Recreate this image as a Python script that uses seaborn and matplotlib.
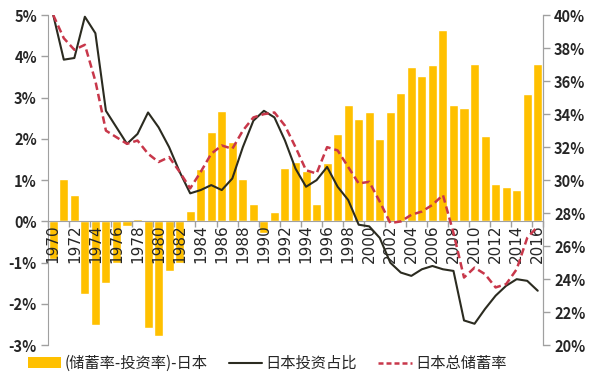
import numpy as np
import matplotlib
matplotlib.use('Agg')
import matplotlib.pyplot as plt
from matplotlib.patches import Patch
from matplotlib.lines import Line2D
from matplotlib.ticker import FuncFormatter
import seaborn as sns

sns.set_style('white')
plt.rcParams['font.family'] = ['Noto Sans CJK SC', 'DejaVu Sans']

years = list(range(1970, 2017))

# (储蓄率-投资率), %
gap = [-0.9, 1.02, 0.65, -1.76, -2.5, -1.5, -1.0, -0.12, 0.07, -2.58,
       -2.77, -1.2, -1.0, 0.25, 1.28, 2.17, 2.67, 1.92, 1.02, 0.41,
       -0.28, 0.22, 1.3, 1.44, 1.21, 0.43, 1.41, 2.13, 2.81, 2.49,
       2.65, 2.0, 2.65, 3.11, 3.74, 3.52, 3.8, 4.63, 2.81, 2.76,
       3.82, 2.06, 0.91, 0.83, 0.75, 3.08, 3.82]

# 日本投资占比, %
invest = [40.0, 37.3, 37.4, 39.9, 38.9, 34.2, 33.2, 32.2, 32.8, 34.1,
          33.2, 32.0, 30.5, 29.2, 29.4, 29.7, 29.4, 30.1, 32.0, 33.6,
          34.2, 33.8, 32.4, 30.7, 29.6, 30.0, 30.8, 29.6, 28.8, 27.3,
          27.2, 26.5, 25.0, 24.4, 24.2, 24.6, 24.8, 24.6, 24.5, 21.5,
          21.3, 22.2, 23.0, 23.6, 24.0, 23.9, 23.3]

# 日本总储蓄率, %
saving = [40.0, 38.6, 37.9, 38.2, 36.0, 33.0, 32.6, 32.2, 32.4, 31.6,
          31.1, 31.4, 30.5, 29.5, 30.5, 31.6, 32.1, 31.9, 33.0, 33.8,
          34.0, 34.1, 33.3, 32.0, 30.6, 30.4, 32.0, 31.8, 30.8, 29.8,
          29.9, 28.7, 27.4, 27.5, 27.9, 28.1, 28.5, 29.1, 26.8, 24.1,
          24.7, 24.3, 23.5, 23.7, 24.6, 26.5, 27.2]

labels = ['(储蓄率-投资率)-日本', '日本投资占比', '日本总储蓄率']
bar_color = '#FFC000'
inv_color = '#2B2B20'
sav_color = '#C8374A'

fig = plt.figure(figsize=(6, 3.87), dpi=100)
ax = fig.add_axes([0.08, 0.108, 0.825, 0.853])

sns.barplot(x=years, y=gap, native_scale=True, color=bar_color,
            saturation=1, width=0.86, ax=ax, zorder=1)
ax.set_axisbelow(False)
ax.set_xlim(1969.5, 2016.5)
ax.set_ylim(-3, 5)
ax.set_yticks(range(-3, 6))
ax.yaxis.set_major_formatter(FuncFormatter(lambda v, p: f'{int(v)}%'))
for lab in ax.get_yticklabels():
    lab.set_fontweight('bold')
ax.tick_params(axis='y', labelsize=10.5, length=5, width=1, color='#a0a0a0',
               direction='out', left=True, pad=3)

ax.spines['top'].set_visible(False)
ax.spines['bottom'].set_position(('data', 0))
for s in ['left', 'right', 'bottom']:
    ax.spines[s].set_color('#a0a0a0')

ax.set_xticks(years[::2])
ax.set_xticklabels([str(y) for y in years[::2]], rotation=90, fontsize=11,
                   family=['DejaVu Sans'])
ax.set_xticks([y - 0.5 for y in years[::2]] + [2016.5], minor=True)
ax.tick_params(axis='x', which='major', length=0, pad=2)
ax.tick_params(axis='x', which='minor', length=4, width=1,
               color='#a0a0a0', direction='out', bottom=True)
ax.set_xlabel('')
ax.set_ylabel('')

ax2 = ax.twinx()
sns.lineplot(x=years, y=invest, color=inv_color, lw=1.5, ax=ax2)
sns.lineplot(x=years, y=saving, color=sav_color, lw=1.8, ax=ax2,
             dashes=False, linestyle=(0, (3, 1.6)))
ax2.set_ylim(20, 40)
ax2.set_yticks(range(20, 41, 2))
ax2.yaxis.set_major_formatter(FuncFormatter(lambda v, p: f'{int(v)}%'))
for lab in ax2.get_yticklabels():
    lab.set_fontweight('bold')
ax2.tick_params(axis='y', labelsize=10.5, length=5, width=1, color='#a0a0a0',
                direction='out', right=True, pad=3)
ax2.spines['top'].set_visible(False)
ax2.spines['bottom'].set_visible(False)
ax2.spines['left'].set_visible(False)
ax2.spines['right'].set_color('#a0a0a0')
ax2.set_xlim(1969.5, 2016.5)

handles = [Patch(facecolor=bar_color, edgecolor='none'),
           Line2D([], [], color=inv_color, lw=1.5),
           Line2D([], [], color=sav_color, lw=1.8, linestyle=(0, (2, 1.2)))]
fig.legend(handles, labels, loc='center', bbox_to_anchor=(0.445, 0.061),
           ncol=3, frameon=False, fontsize=11, handlelength=2.2,
           handletextpad=0.2, columnspacing=1.4)

fig.savefig('out.png', dpi=100)
